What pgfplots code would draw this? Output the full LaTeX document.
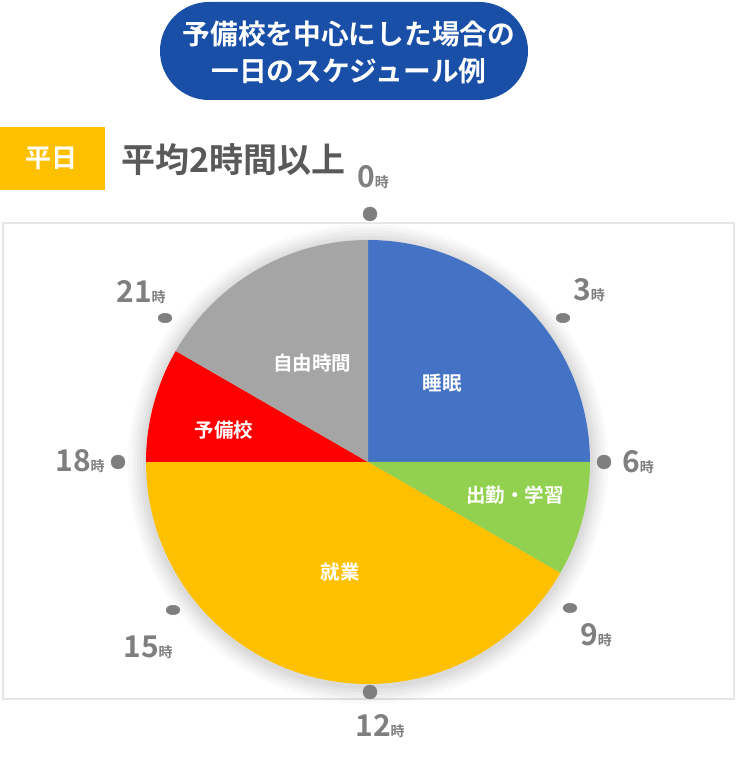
\documentclass[border=0pt]{standalone}
\usepackage{pgfplots}
\pgfplotsset{compat=1.18}
\usepackage{fontspec}
\setmainfont{Noto Sans CJK JP}[BoldFont={Noto Sans CJK JP Bold}]
\definecolor{badge}{HTML}{1A4FA8}
\definecolor{cblue}{HTML}{4472C4}
\definecolor{cgreen}{HTML}{92D050}
\definecolor{cyellow}{HTML}{FFC000}
\definecolor{cred}{HTML}{FF0000}
\definecolor{cgray}{HTML}{A5A5A5}
\definecolor{lab}{HTML}{7F7F7F}
\definecolor{dark}{HTML}{595959}
\definecolor{frame}{HTML}{E6E6E6}
\newcommand{\hrlab}[1]{{\fontsize{30}{30}\selectfont #1}{\fontsize{14}{14}\selectfont 時}}
\begin{document}
\begin{tikzpicture}[x=1pt,y=1pt]
\useasboundingbox (0,0) rectangle (736,764);
\begin{axis}[at={(0,0)}, anchor=south west, width=736pt, height=764pt, scale only axis,
  xmin=0, xmax=736, ymin=0, ymax=764, hide axis, clip=false]
% frame
\draw[frame, line width=1.4pt] (axis cs:3,541) rectangle (axis cs:734,65);
% shadow
\fill[black, opacity=0.02] (axis cs:368,300) circle[radius=240];
\fill[black, opacity=0.02] (axis cs:368,300) circle[radius=237];
\fill[black, opacity=0.025] (axis cs:368,300) circle[radius=234];
\fill[black, opacity=0.025] (axis cs:368,300) circle[radius=231];
\fill[black, opacity=0.03] (axis cs:368,300) circle[radius=228];
\fill[black, opacity=0.03] (axis cs:368,300) circle[radius=225];
% pie sectors: hours start:end on a 24h clock, centre (368,302), radius 222
\addplot[fill=cblue, draw=none, domain=0:6, samples=61] ({368+222*sin(15*x)},{302+222*cos(15*x)}) -- (axis cs:368,302) -- cycle;
\addplot[fill=cgreen, draw=none, domain=6:8, samples=31] ({368+222*sin(15*x)},{302+222*cos(15*x)}) -- (axis cs:368,302) -- cycle;
\addplot[fill=cyellow, draw=none, domain=8:18, samples=101] ({368+222*sin(15*x)},{302+222*cos(15*x)}) -- (axis cs:368,302) -- cycle;
\addplot[fill=cred, draw=none, domain=18:20, samples=31] ({368+222*sin(15*x)},{302+222*cos(15*x)}) -- (axis cs:368,302) -- cycle;
\addplot[fill=cgray, draw=none, domain=20:24, samples=51] ({368+222*sin(15*x)},{302+222*cos(15*x)}) -- (axis cs:368,302) -- cycle;
% sector labels
\node[text=white, font=\bfseries\fontsize{19.5}{19.5}\selectfont] at (axis cs:442,381) {睡眠};
\node[text=white, font=\bfseries\fontsize{19.5}{19.5}\selectfont] at (axis cs:515,269) {出勤・学習};
\node[text=white, font=\bfseries\fontsize{19.5}{19.5}\selectfont] at (axis cs:340,192) {就業};
\node[text=white, font=\bfseries\fontsize{19.5}{19.5}\selectfont] at (axis cs:224,334) {予備校};
\node[text=white, font=\bfseries\fontsize{19.5}{19.5}\selectfont] at (axis cs:312,401) {自由時間};
% clock dots
\addplot[only marks, mark=*, mark size=7pt, color=lab] coordinates {(370,550) (604,302) (370,72) (118,302)};
\addplot[only marks, mark=*, mark size=6pt, color=lab, mark options={xscale=1.15, yscale=0.8}] coordinates {(563,446) (570,156) (173,154) (165,446)};
% clock labels
\node[text=lab, font=\bfseries] at (axis cs:373,587) {\hrlab{0}};
\node[text=lab, font=\bfseries] at (axis cs:589,474) {\hrlab{3}};
\node[text=lab, font=\bfseries] at (axis cs:638,302) {\hrlab{6}};
\node[text=lab, font=\bfseries] at (axis cs:596,129) {\hrlab{9}};
\node[text=lab, font=\bfseries] at (axis cs:380,38) {\hrlab{12}};
\node[text=lab, font=\bfseries] at (axis cs:148,117) {\hrlab{15}};
\node[text=lab, font=\bfseries] at (axis cs:80,303) {\hrlab{18}};
\node[text=lab, font=\bfseries] at (axis cs:141,472) {\hrlab{21}};
% title badge
\fill[badge, rounded corners=49pt] (axis cs:160,762) rectangle (axis cs:528,664);
\node[text=white, font=\bfseries\fontsize{27.7}{37}\selectfont, align=center] at (axis cs:349,712) {予備校を中心にした場合の\\一日のスケジュール例};
% weekday box
\fill[cyellow] (axis cs:0,637) rectangle (axis cs:105,574);
\node[text=white, font=\bfseries\fontsize{26}{26}\selectfont] at (axis cs:52,606) {平日};
\node[text=dark, font=\bfseries\fontsize{34}{34}\selectfont, anchor=west, inner sep=0pt] at (axis cs:121,604) {平均2時間以上};
\end{axis}
\end{tikzpicture}
\end{document}
